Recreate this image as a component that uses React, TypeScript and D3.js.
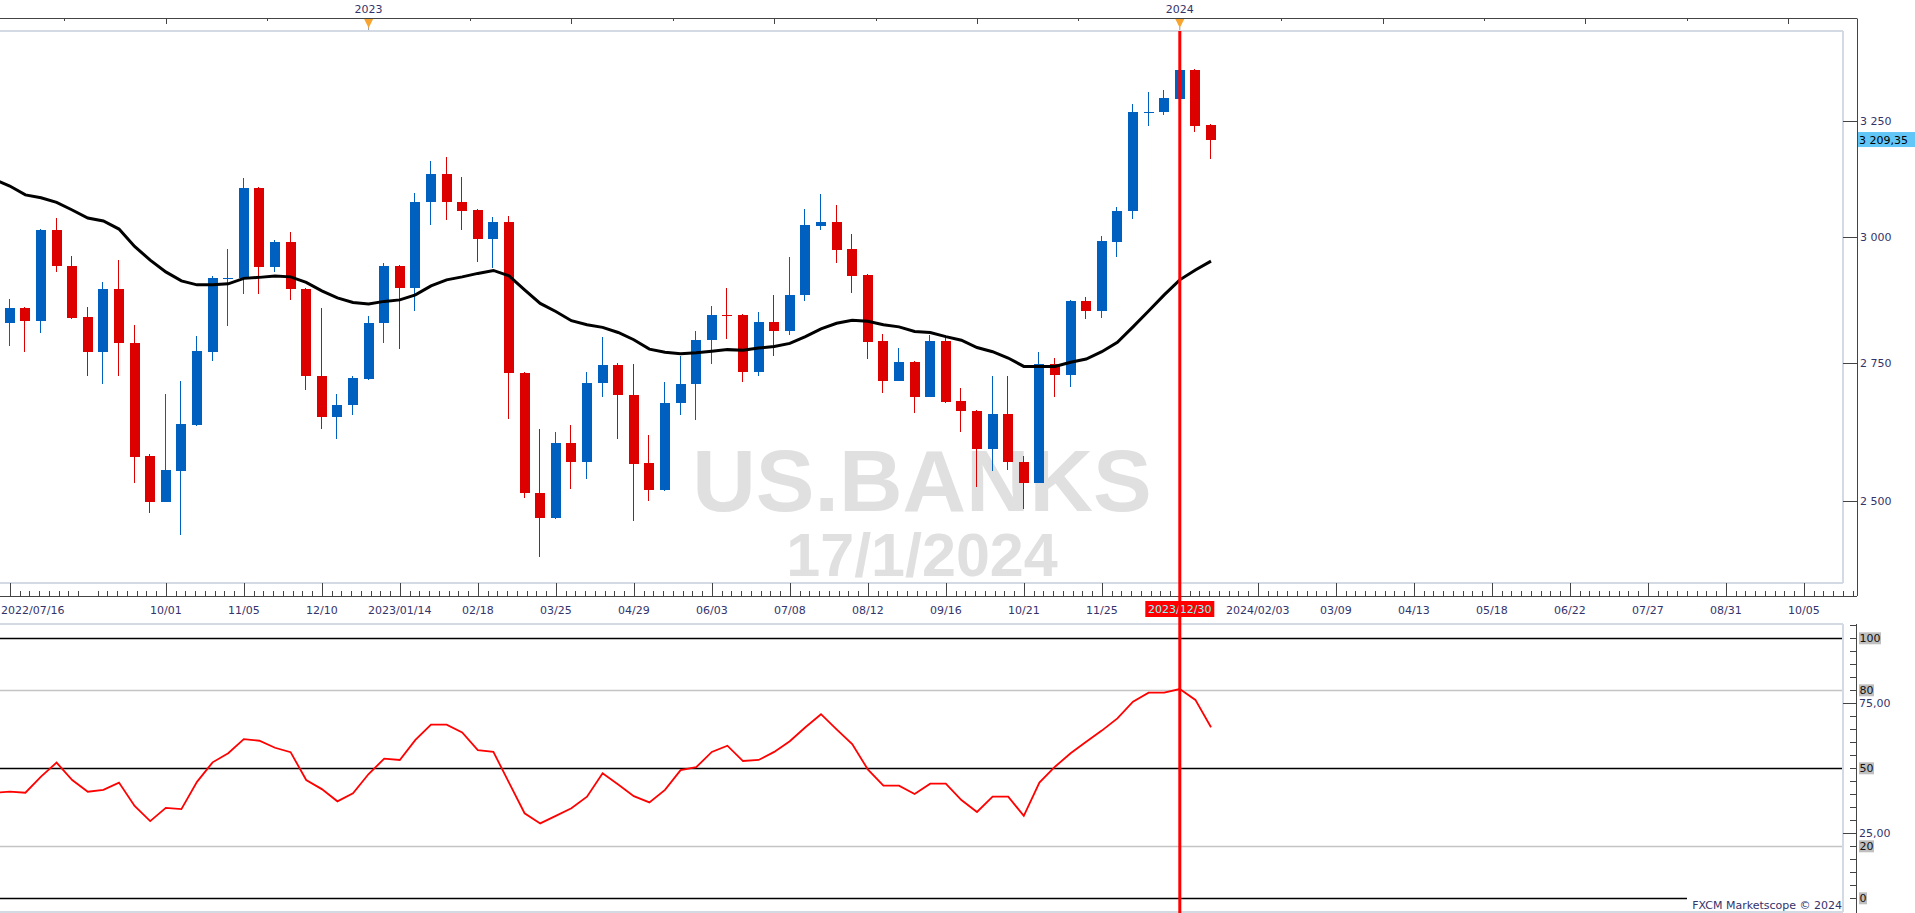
import React, { useEffect } from "react";
import * as d3 from "d3";

// ---- data (weekly candles, first candle = week of 2022-07-23) ----
const opens = [2828, 2857, 2832, 3015, 2940, 2839, 2772, 2895, 2788, 2579, 2499, 2553, 2635, 2772, 2915, 2917, 3104, 2938, 2990, 2895, 2725, 2649, 2671, 2721, 2827, 2941, 2897, 3073, 3134, 3074, 3056, 2997, 3032, 2732, 2515, 2471, 2603, 2568, 2712, 2747, 2690, 2567, 2520, 2675, 2710, 2794, 2843, 2844, 2734, 2830, 2811, 2882, 3024, 3032, 2975, 2922, 2792, 2717, 2752, 2687, 2793, 2679, 2660, 2592, 2655, 2569, 2532, 2749, 2727, 2871, 2852, 2991, 3054, 3269, 3271, 3301, 3367, 3241];
const highs = [2875, 2859, 3017, 3040, 2962, 2859, 2909, 2953, 2824, 2583, 2692, 2717, 2803, 2921, 2976, 3125, 3106, 2994, 3011, 2897, 2857, 2692, 2725, 2842, 2947, 2943, 3093, 3163, 3171, 3127, 3058, 3042, 3044, 2734, 2628, 2623, 2635, 2733, 2801, 2751, 2749, 2617, 2715, 2764, 2812, 2861, 2897, 2846, 2849, 2883, 2959, 3059, 3091, 3068, 3007, 2924, 2806, 2780, 2754, 2805, 2801, 2704, 2662, 2726, 2726, 2580, 2772, 2760, 2872, 2879, 3003, 3063, 3289, 3317, 3321, 3369, 3369, 3243];
const lows = [2782, 2772, 2809, 2929, 2836, 2725, 2710, 2725, 2532, 2480, 2498, 2443, 2634, 2755, 2822, 2885, 2885, 2929, 2873, 2700, 2628, 2610, 2654, 2719, 2788, 2778, 2852, 3026, 3035, 3016, 2950, 2937, 2646, 2506, 2405, 2470, 2522, 2539, 2687, 2610, 2467, 2501, 2518, 2654, 2645, 2749, 2797, 2714, 2725, 2764, 2805, 2870, 3014, 2948, 2887, 2758, 2695, 2716, 2658, 2686, 2676, 2623, 2524, 2553, 2555, 2487, 2531, 2687, 2706, 2836, 2838, 2960, 3037, 3239, 3265, 3299, 3225, 3167];
const closes = [2857, 2832, 3015, 2940, 2838, 2772, 2895, 2788, 2578, 2499, 2555, 2637, 2773, 2917, 2917, 3104, 2938, 2990, 2895, 2725, 2649, 2672, 2722, 2828, 2941, 2897, 3074, 3134, 3073, 3055, 2997, 3032, 2732, 2515, 2471, 2603, 2568, 2713, 2747, 2690, 2566, 2520, 2676, 2711, 2795, 2844, 2842, 2734, 2830, 2811, 2883, 3026, 3032, 2974, 2921, 2791, 2717, 2752, 2687, 2793, 2678, 2660, 2592, 2655, 2568, 2532, 2749, 2727, 2871, 2852, 2992, 3055, 3271, 3272, 3303, 3367, 3240, 3209.35];

// moving average and RSI, starting one week before the first candle (2022-07-16)
const maValues = [3122, 3108, 3089, 3083, 3073, 3057, 3040, 3034, 3017, 2981, 2953, 2929, 2911, 2903, 2903, 2905, 2916, 2918, 2921, 2919, 2908, 2891, 2877, 2868, 2865, 2870, 2873, 2883, 2901, 2913, 2919, 2926, 2932, 2921, 2893, 2866, 2850, 2832, 2824, 2819, 2809, 2795, 2777, 2771, 2768, 2770, 2773, 2776, 2775, 2779, 2782, 2788, 2801, 2816, 2827, 2833, 2831, 2824, 2820, 2811, 2809, 2801, 2794, 2780, 2772, 2760, 2744, 2744, 2744, 2752, 2758, 2772, 2790, 2820, 2851, 2883, 2913, 2933, 2951];
const rsiValues = [40.6, 41.0, 40.6, 46.8, 52.2, 45.5, 41.0, 41.7, 44.5, 35.5, 29.7, 34.8, 34.3, 44.8, 52.3, 55.8, 61.2, 60.6, 57.9, 56.2, 45.5, 42.0, 37.3, 40.4, 47.8, 53.7, 53.2, 60.9, 66.8, 66.8, 63.8, 57.0, 56.3, 44.5, 32.7, 28.8, 31.7, 34.6, 39.1, 48.1, 43.8, 39.3, 36.9, 41.7, 49.3, 50.4, 56.3, 58.7, 52.8, 53.2, 56.3, 60.4, 65.8, 70.8, 65.0, 59.3, 49.6, 43.3, 43.3, 40.1, 44.1, 44.1, 37.8, 33.2, 39.1, 39.1, 31.7, 44.5, 50.6, 55.8, 60.2, 64.5, 69.2, 75.6, 79.1, 79.1, 80.5, 76.3, 65.8];

const priceTicks = [2500, 2750, 3000, 3250];
const priceTickLabels = ["2 500", "2 750", "3 000", "3 250"];
const lastPrice = 3209.35;
const lastPriceLabel = "3 209,35";

// bottom date labels: week index of label and its text
const dateLabelIdx = [10, 15, 20, 25, 30, 35, 40, 45, 50, 55, 60, 65, 70, 75, 80, 85, 90, 95, 100, 105, 110, 115];
const dateLabels = ["10/01", "11/05", "12/10", "2023/01/14", "02/18", "03/25", "04/29", "06/03", "07/08", "08/12", "09/16", "10/21", "11/25", "2023/12/30", "2024/02/03", "03/09", "04/13", "05/18", "06/22", "07/27", "08/31", "10/05"];
const firstDateLabel = "2022/07/16";
const cursorIdx = 75;

const yearIdx = [23, 75];
const yearLabels = ["2023", "2024"];

const rsiLevels = [100, 80, 50, 20, 0];
const rsiAxisTicks = [75, 25];
const rsiAxisLabels = ["75,00", "25,00"];

// ---- layout ----
const W = 1915, H = 913;
const plotRight = 1843, axisX = 1857;
const topAxisY = 18.5;
const mainTop = 31, mainBottom = 583;
const xAxisY = 596;
const lowerTop = 624, lowerBottom = 912;

const BLUE = "#0060C0";
const RED = "#DD0000";
const TXT = "#33336B";
const FONT = "'DejaVu Sans', Verdana, sans-serif";

export default function App() {
  useEffect(() => {
    document.body.style.margin = "0";
  }, []);

  const x = d3.scaleLinear().domain([0, 77]).range([9.8, 1211]);
  const y = d3.scaleLog().domain([2500, 3250]).range([501.3, 121.3]);
  const ry = d3.scaleLinear().domain([0, 100]).range([898.3, 638.3]);

  const maLine = d3
    .line<number>()
    .x((_, i) => x(i - 1))
    .y((d) => y(d));
  const rsiLine = d3
    .line<number>()
    .x((_, i) => x(i - 1))
    .y((d) => ry(d));

  const topTicks: number[] = [];
  for (let v = 3.5; v <= 117; v += 6.5) topTicks.push(v);

  const minorX: number[] = [];
  for (let k = 0; k < 8 * 24; k++) {
    const xv = x(5) + (k - 8) * (15.6 * 5) / 8;
    if (k % 8 !== 0 && xv > 0 && xv < axisX) minorX.push(xv);
  }

  const rsiMinor: number[] = [];
  for (let v = 0; v <= 105; v += 5) rsiMinor.push(v);

  const cursorX = x(cursorIdx);

  return (
    <svg
      width={W}
      height={H}
      style={{ position: "absolute", left: 0, top: 0, background: "#fff" }}
      fontFamily={FONT}
    >
      <defs>
        <clipPath id="mainClip">
          <rect x={0} y={mainTop} width={plotRight} height={mainBottom - mainTop} />
        </clipPath>
        <clipPath id="lowClip">
          <rect x={0} y={lowerTop} width={plotRight} height={lowerBottom - lowerTop} />
        </clipPath>
      </defs>
      <rect x={0} y={0} width={W} height={H} fill="#fff" />

      {/* top year axis */}
      <line x1={0} x2={axisX} y1={topAxisY} y2={topAxisY} stroke="#444" strokeWidth={1} />
      {topTicks.map((t, i) => {
        const tall = Math.abs(((t - 10) % 13 + 13) % 13) < 0.01;
        const xx = Math.round(x(t)) + 0.5;
        return <line key={i} x1={xx} x2={xx} y1={topAxisY} y2={topAxisY + (tall ? 5.5 : 2.5)} stroke="#444" />;
      })}
      {yearIdx.map((yi, i) => {
        const xx = x(yi);
        return (
          <g key={i}>
            <text x={xx} y={13} fontSize={11} fill={TXT} textAnchor="middle">
              {yearLabels[i]}
            </text>
            <line x1={xx} x2={xx} y1={27} y2={mainTop} stroke="#999" />
            <path d={`M${xx - 4.5},${19} L${xx + 4.5},${19} L${xx},${28} Z`} fill="#F7A530" />
          </g>
        );
      })}

      {/* main panel frame */}
      <line x1={0} x2={plotRight} y1={mainTop} y2={mainTop} stroke="#D3DAE4" strokeWidth={2} />
      <line x1={plotRight} x2={plotRight} y1={mainTop} y2={mainBottom} stroke="#D3DAE4" strokeWidth={2} />
      <line x1={0} x2={plotRight} y1={mainBottom} y2={mainBottom} stroke="#D3DAE4" strokeWidth={2} />

      {/* watermark */}
      <text fontFamily="'Liberation Sans', Arial, sans-serif" fontWeight="bold" fill="#E0E0E0" textAnchor="middle">
        <tspan x={922} y={511} fontSize={88}>US.BANKS</tspan>
        <tspan x={922} y={576} fontSize={61}>17/1/2024</tspan>
      </text>

      {/* candles */}
      <g clipPath="url(#mainClip)" shapeRendering="crispEdges">
        {opens.map((o, i) => {
          const c = closes[i];
          const up = c >= o;
          const col = up ? BLUE : RED;
          const cx = Math.round(x(i));
          const top = Math.round(y(Math.max(o, c)));
          const bot = Math.round(y(Math.min(o, c)));
          const hy = Math.round(y(highs[i]));
          const ly = Math.round(y(lows[i]));
          return (
            <g key={i}>
              <rect x={cx - 1} y={hy} width={1} height={Math.max(1, ly - hy)} fill={col} />
              <rect x={cx - 5} y={top} width={10} height={Math.max(1, bot - top)} fill={col} />
            </g>
          );
        })}
      </g>

      {/* moving average */}
      <path d={maLine(maValues) || ""} fill="none" stroke="#000" strokeWidth={3} clipPath="url(#mainClip)" />

      {/* right price axis */}
      <line x1={axisX + 0.5} x2={axisX + 0.5} y1={topAxisY} y2={xAxisY} stroke="#444" />
      {priceTicks.map((p, i) => (
        <g key={i}>
          <line x1={plotRight} x2={axisX} y1={Math.round(y(p)) + 0.5} y2={Math.round(y(p)) + 0.5} stroke="#444" />
          <text x={1860} y={y(p) + 4} fontSize={11} fill={TXT}>
            {priceTickLabels[i]}
          </text>
        </g>
      ))}
      <rect x={1858} y={y(lastPrice) - 7.5} width={57} height={15} fill="#62C6F6" />
      <text x={1859} y={y(lastPrice) + 4} fontSize={11} fill="#000">
        {lastPriceLabel}
      </text>

      {/* bottom date axis */}
      <line x1={0} x2={axisX} y1={xAxisY + 0.5} y2={xAxisY + 0.5} stroke="#444" />
      {minorX.map((xx, i) => (
        <line key={i} x1={Math.round(xx) + 0.5} x2={Math.round(xx) + 0.5} y1={xAxisY - 5} y2={xAxisY} stroke="#444" />
      ))}
      <line x1={Math.round(x(0)) + 0.5} x2={Math.round(x(0)) + 0.5} y1={mainBottom} y2={xAxisY} stroke="#444" />
      {dateLabelIdx.map((di, i) => {
        const xx = Math.round(x(di)) + 0.5;
        const isCursor = di === cursorIdx;
        return (
          <g key={i}>
            <line x1={xx} x2={xx} y1={mainBottom} y2={xAxisY} stroke="#444" />
            {isCursor ? (
              <g>
                <rect x={x(di) - 34.5} y={601} width={69} height={16} fill="#FF0000" />
                <text x={x(di)} y={613} fontSize={11} fill="#7FFFFF" textAnchor="middle">
                  {dateLabels[i]}
                </text>
              </g>
            ) : (
              <text x={x(di)} y={614} fontSize={11} fill={TXT} textAnchor="middle">
                {dateLabels[i]}
              </text>
            )}
          </g>
        );
      })}
      <text x={1} y={614} fontSize={11} fill={TXT}>
        {firstDateLabel}
      </text>

      {/* lower panel */}
      <line x1={0} x2={plotRight} y1={lowerTop} y2={lowerTop} stroke="#D3DAE4" strokeWidth={2} />
      <line x1={plotRight} x2={plotRight} y1={lowerTop} y2={lowerBottom} stroke="#D3DAE4" strokeWidth={2} />
      <line x1={0} x2={plotRight} y1={lowerBottom} y2={lowerBottom} stroke="#D3DAE4" strokeWidth={2} />
      {rsiLevels.map((lv, i) => {
        const yy = Math.round(ry(lv)) + 0.5;
        const gray = lv === 80 || lv === 20;
        return (
          <line
            key={i}
            x1={0}
            x2={lv === 0 ? 1687 : plotRight - 1}
            y1={yy}
            y2={yy}
            stroke={gray ? "#C4C4C4" : "#000"}
            strokeWidth={1.5}
          />
        );
      })}
      <path d={rsiLine(rsiValues) || ""} fill="none" stroke="#FF0000" strokeWidth={1.8} clipPath="url(#lowClip)" />

      <line x1={axisX - 0.5} x2={axisX - 0.5} y1={lowerTop} y2={H} stroke="#444" />
      {rsiMinor.map((v, i) => (
        <line key={i} x1={1850} x2={axisX} y1={Math.round(ry(v)) + 0.5} y2={Math.round(ry(v)) + 0.5} stroke="#444" />
      ))}
      {rsiAxisTicks.map((v, i) => (
        <g key={i}>
          <line x1={plotRight} x2={axisX} y1={Math.round(ry(v)) + 0.5} y2={Math.round(ry(v)) + 0.5} stroke="#444" />
          <text x={1859} y={ry(v) + 4} fontSize={11} fill={TXT}>
            {rsiAxisLabels[i]}
          </text>
        </g>
      ))}
      {rsiLevels.map((lv, i) => {
        const label = String(lv);
        const w = label.length * 7 + 1;
        return (
          <g key={i}>
            <rect x={1859} y={ry(lv) - 6} width={w} height={12} fill="#BFBFBF" />
            <text x={1859.5} y={ry(lv) + 4} fontSize={11} fill="#111">
              {label}
            </text>
          </g>
        );
      })}
      <text x={1842} y={909} fontSize={11} fill={TXT} textAnchor="end">
        FXCM Marketscope © 2024
      </text>

      {/* cursor line */}
      <rect x={cursorX - 1.5} y={mainTop} width={3} height={H - mainTop} fill="#FF0000" />
    </svg>
  );
}
